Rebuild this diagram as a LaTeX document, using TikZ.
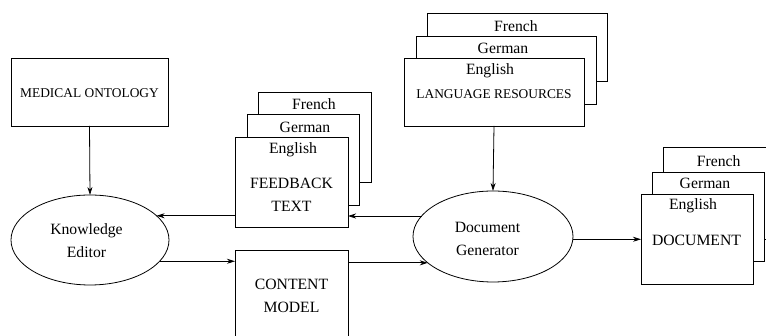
\documentclass[tikz,border=0pt]{standalone}
\usepackage{fontspec}
\setmainfont{Liberation Serif}
\usetikzlibrary{shapes.geometric,arrows.meta}
\begin{document}
\begin{tikzpicture}[x=1pt,y=1pt,
  box/.style={draw, fill=white, line width=0.8pt, inner sep=0pt, outer sep=0pt},
  oval/.style={draw, ellipse, line width=0.8pt, inner sep=0pt, outer sep=0pt,
    minimum width=158pt, minimum height=90pt},
  big/.style={inner sep=0pt, align=center, font=\fontsize{15.7}{23}\selectfont},
  small/.style={inner sep=0pt, align=center, font=\fontsize{13.4}{16}\selectfont},
  arr/.style={line width=0.8pt, -{Stealth[length=8pt,width=5pt,inset=2.5pt]}}]
\useasboundingbox (0,0) rectangle (766,336);
\clip (0,0) rectangle (766,336);
% Medical ontology
\node[box, minimum width=157pt, minimum height=68pt] (med) at (89.5,244) {};
\node[small] (medt) at (89.5,242.5) {MEDICAL ONTOLOGY};
% Knowledge editor
\node[oval] (ke) at (90,96) {};
\node[big] (ket) at (86.5,95.5) {Knowledge\\Editor};
% Feedback text stack
\node[box, minimum width=113pt, minimum height=90pt] (fbF) at (314.5,199) {};
\node[box, minimum width=112pt, minimum height=91pt] (fbG) at (303,176.5) {};
\node[box, minimum width=113pt, minimum height=90pt] (fbE) at (291.5,154) {};
\node[big] (fbFt) at (314,232) {French};
\node[big] (fbGt) at (305,209) {German};
\node[big] (fbEt) at (293,186) {English};
\node[big] (fbt) at (291.5,141.5) {FEEDBACK\\TEXT};
% Content model
\node[box, minimum width=113pt, minimum height=96pt] (cm) at (291.5,38) {};
\node[big] (cmt) at (291.5,40.5) {CONTENT\\MODEL};
% Language resources stack
\node[box, minimum width=180pt, minimum height=68pt] (lrF) at (517,289) {};
\node[box, minimum width=180pt, minimum height=68pt] (lrG) at (506,266) {};
\node[box, minimum width=180pt, minimum height=68pt] (lrE) at (494,244) {};
\node[big] (lrFt) at (516,310) {French};
\node[big] (lrGt) at (503,288) {German};
\node[big] (lrEt) at (490,265) {English};
\node[small] (lrt) at (494,242) {LANGUAGE RESOURCES};
% Document generator
\node[oval, minimum width=160pt, minimum height=91pt] (dg) at (493,99.5) {};
\node[big] (dgt) at (487.5,97) {Document\\Generator};
% Document stack
\node[box, minimum width=112pt, minimum height=92pt] (dF) at (719,143) {};
\node[box, minimum width=112pt, minimum height=89pt] (dG) at (708,119.5) {};
\node[box, minimum width=112pt, minimum height=90pt] (dE) at (697,97) {};
\node[big] (dFt) at (718.7,175) {French};
\node[big] (dGt) at (705,153) {German};
\node[big] (dEt) at (693,130) {English};
\node[big] (dt) at (696.5,96) {DOCUMENT};
% Connectors
\draw[arr] (med.south) -- (ke.north);
\draw[arr] (lrE.south) -- (dg.north);
\draw[arr] (fbE.west |- ke.20) -- (ke.20);
\draw[arr] (dg.164) -- (fbE.east |- dg.164);
\draw[arr] (ke.-17) -- (cm.west |- ke.-17);
\draw[arr] (cm.east |- dg.-158) -- (dg.-158);
\draw[arr] (dg.-2) -- (dE.west |- dg.-2);
\end{tikzpicture}
\end{document}
